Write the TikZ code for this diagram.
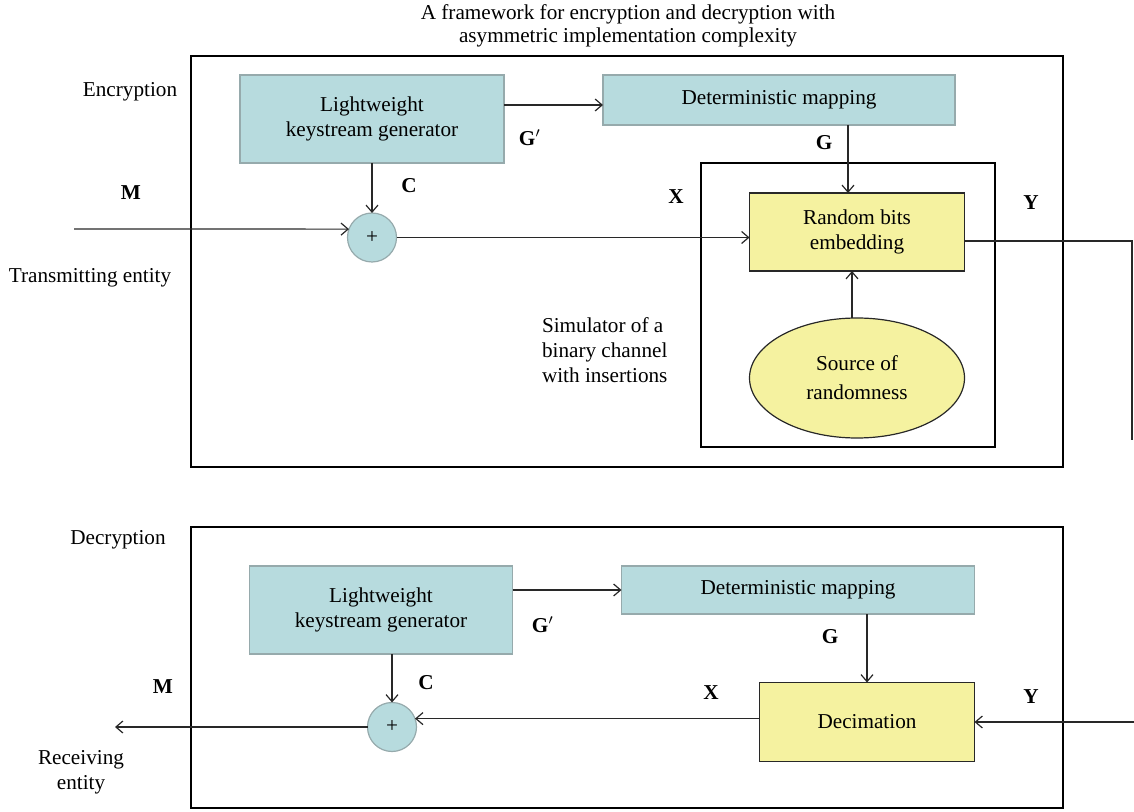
\documentclass[tikz,border=0pt]{standalone}
\usepackage{fontspec}
\setmainfont{Liberation Serif}
\usepackage{tikz}
\usetikzlibrary{positioning, shapes.geometric, arrows.meta}

\definecolor{tealfill}{RGB}{183,219,222}
\definecolor{tealline}{RGB}{150,170,172}
\definecolor{yelfill}{RGB}{245,242,160}
\definecolor{wire}{RGB}{40,40,40}

\begin{document}
\begin{tikzpicture}[
    x=0.5pt, y=-0.5pt,
    every node/.style={font=\fontsize{10.6}{12.5}\selectfont, inner sep=0pt, outer sep=0pt},
    frame/.style={draw=black, line width=0.6pt},
    tbox/.style={draw=tealline, fill=tealfill, line width=0.6pt, align=center},
    ybox/.style={draw=wire, fill=yelfill, line width=0.6pt, align=center},
    xor/.style={circle, draw=tealline, fill=tealfill, line width=0.6pt, minimum size=24.5pt},
    sig/.style={font=\fontsize{10.6}{12.5}\selectfont\bfseries},
    conn/.style={draw=wire, line width=0.6pt, -{Straight Barb[length=3.5pt, width=6pt]}},
    wirel/.style={draw=wire, line width=0.6pt},
]
\useasboundingbox (0,0) rectangle (1134,812);

% Title
\node[align=center, font=\fontsize{10.6}{11.5}\selectfont] (TT) at (628,26) {A framework for encryption and decryption with\\asymmetric implementation complexity};

% Draw the encryption part
\node[frame, minimum width=436pt, minimum height=205.5pt] (ENC) at (627,261.5) {};
\node (ENCL) at (130,92) {Encryption};
\node[frame, minimum width=147pt, minimum height=142pt] (SIM) at (848,305) {};
\node[tbox, minimum width=132pt, minimum height=44pt] (LKG1) at (372,119) {Lightweight\\keystream generator};
\node[tbox, minimum width=176pt, minimum height=25pt] (DM1) at (779,100) {Deterministic mapping};
\node[ybox, minimum width=107.5pt, minimum height=39pt] (RBE) at (857,232) {Random bits\\embedding};
\node[ellipse, ybox, minimum width=107.5pt, minimum height=60pt] (SRC) at (857,378) {Source of\\[2pt]randomness};
\node[xor] (P1) at (372,237.5) {+};
\node[align=left, anchor=north west] (SIML) at (542,318) {Simulator of a\\binary channel\\with insertions};
\node (TX) at (90,278) {Transmitting entity};
\node[sig] (M1) at (131,193) {M};
\node[sig] (C1) at (409,186) {C};
\node[sig] (GP1) at (530,138) {$\mathbf{G}'$};
\node[sig] (G1) at (824,143) {G};
\node[sig] (X1) at (676,197) {X};
\node[sig] (Y1) at (1031,203) {Y};
\coordinate (IN) at (74,229);
\coordinate (OUT) at (1132,440);

\draw[conn] ([yshift=-2.5pt]DM1.west -| LKG1.east) -- ([yshift=-2.5pt]DM1.west);
\draw[conn] ([xshift=34.5pt]DM1.south) -- ([xshift=-4.5pt]RBE.north);
\draw[conn] (LKG1.south) -- (P1.north);
\draw[conn] (IN) -- (P1.160);
\draw[conn] (P1.east) -- (P1.east -| RBE.west);
\draw[conn] ([xshift=-2.5pt]SRC.north) -- ([xshift=-2.5pt]RBE.south);
\draw[wirel] (RBE.east |- 0,241) -| (OUT);

% Draw the decryption part
\node[frame, minimum width=436pt, minimum height=140.5pt] (DEC) at (627,667.5) {};
\node (DECL) at (118,540) {Decryption};
\node[tbox, minimum width=131.5pt, minimum height=44pt] (LKG2) at (381,610) {Lightweight\\keystream generator};
\node[tbox, minimum width=176.5pt, minimum height=24pt] (DM2) at (798,590) {Deterministic mapping};
\node[ybox, minimum width=107.5pt, minimum height=39.5pt] (DCM) at (867,722) {Decimation};
\node[xor] (P2) at (392,727) {+};
\node[align=center] (RX) at (81,772) {Receiving\\entity};
\node[sig] (M2) at (163,687) {M};
\node[sig] (C2) at (426,683) {C};
\node[sig] (GP2) at (543,625) {$\mathbf{G}'$};
\node[sig] (G2) at (830,637) {G};
\node[sig] (X2) at (711,693) {X};
\node[sig] (Y2) at (1031,697) {Y};
\coordinate (YIN) at (1134,722);
\coordinate (MOUT) at (115,727);

\draw[conn] (DM2.west -| LKG2.east) -- (DM2.west);
\draw[conn] (DM2.south -| DCM.north) -- (DCM.north);
\draw[conn] (P2.north |- LKG2.south) -- (P2.north);
\draw[conn] (YIN) -- (DCM.east);
\draw[conn] (P2.20 -| DCM.west) -- (P2.20);
\draw[conn] (P2.west) -- (MOUT);

\end{tikzpicture}
\end{document}
